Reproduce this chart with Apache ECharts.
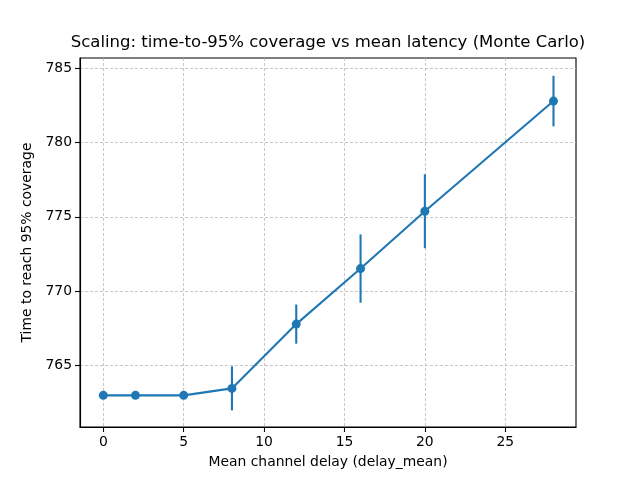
<!DOCTYPE html>
<html>
<head>
<meta charset="utf-8">
<script src="https://cdn.jsdelivr.net/npm/echarts@6/dist/echarts.min.js"></script>
<style>html,body{margin:0;padding:0;background:#fff;}#c{width:640px;height:480px;}</style>
</head>
<body>
<div id="c"></div>
<script>
const delays = [0, 2, 5, 8, 12, 16, 20, 28];
const meanTimes = [762.98, 762.98, 762.98, 763.45, 767.78, 771.52, 775.38, 782.80];
const errors = [0, 0, 0, 1.48, 1.32, 2.3, 2.49, 1.7];
const xTicks = [0, 5, 10, 15, 20, 25];
const yTicks = [765, 770, 775, 780, 785];

const FONT = 'DejaVu Sans';
const BLUE = '#1f77b4';

const chart = echarts.init(document.getElementById('c'), null, {renderer: 'canvas'});
const lineData = delays.map((d, i) => [d, meanTimes[i]]);
const errData = delays.map((d, i) => [d, meanTimes[i] - errors[i], meanTimes[i] + errors[i]]);

chart.setOption({
  animation: false,
  backgroundColor: '#fff',
  title: {
    text: 'Scaling: time-to-95% coverage vs mean latency (Monte Carlo)',
    left: 328, top: 34, textAlign: 'center', padding: 0,
    textStyle: {fontFamily: FONT, fontSize: 16.5, fontWeight: 'normal', color: '#000'}
  },
  grid: {left: 80, right: 64, top: 58, bottom: 53, show: true, borderColor: '#000', borderWidth: 1.1, backgroundColor: 'transparent'},
  xAxis: {
    type: 'value', min: -1.45, max: 29.4,
    name: 'Mean channel delay (delay_mean)', nameLocation: 'middle', nameGap: 28,
    nameTextStyle: {fontFamily: FONT, fontSize: 13.9, color: '#000'},
    axisLine: {show: true, onZero: false, lineStyle: {color: '#000', width: 1.1}},
    axisTick: {show: true, inside: false, length: 5, lineStyle: {color: '#000', width: 1.1}, customValues: xTicks},
    axisLabel: {fontFamily: FONT, fontSize: 13.9, color: '#000', margin: 8, customValues: xTicks, showMinLabel: true, showMaxLabel: true},
    splitLine: {show: true, lineStyle: {color: '#b0b0b0', width: 0.7, type: [3, 2]}, customValues: xTicks}
  },
  yAxis: {
    type: 'value', min: 760.85, max: 785.7,
    name: 'Time to reach 95% coverage', nameLocation: 'middle', nameGap: 43, nameRotate: 90,
    nameTextStyle: {fontFamily: FONT, fontSize: 13.9, color: '#000'},
    axisLine: {show: true, onZero: false, lineStyle: {color: '#000', width: 1.1}},
    axisTick: {show: true, inside: false, length: 5, lineStyle: {color: '#000', width: 1.1}, customValues: yTicks},
    axisLabel: {fontFamily: FONT, fontSize: 13.9, color: '#000', margin: 8, customValues: yTicks},
    splitLine: {show: true, lineStyle: {color: '#b0b0b0', width: 0.7, type: [3, 2]}, customValues: yTicks}
  },
  series: [
    {
      type: 'custom',
      data: errData,
      renderItem: function (params, api) {
        const x = api.value(0);
        const lo = api.coord([x, api.value(1)]);
        const hi = api.coord([x, api.value(2)]);
        return {type: 'line', shape: {x1: lo[0], y1: lo[1], x2: hi[0], y2: hi[1]}, style: {stroke: BLUE, lineWidth: 2.1}};
      },
      encode: {x: 0, y: [1, 2]},
      z: 3
    },
    {
      type: 'line',
      data: lineData,
      symbol: 'circle', symbolSize: 9,
      itemStyle: {color: BLUE},
      lineStyle: {color: BLUE, width: 2.1},
      z: 4
    }
  ]
});
</script>
</body>
</html>
